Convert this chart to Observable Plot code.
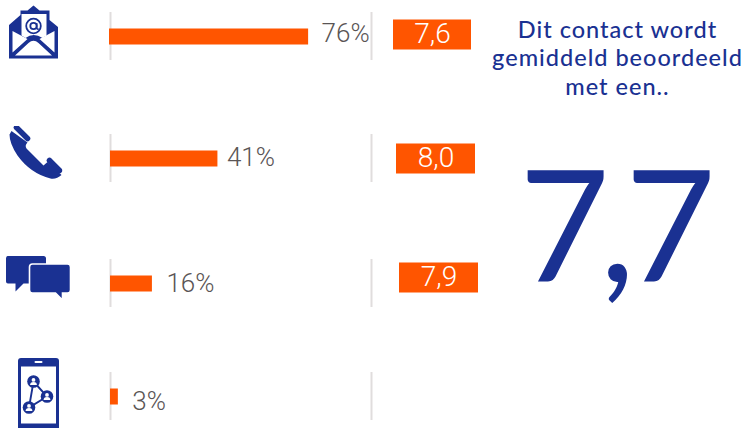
<!DOCTYPE html>
<html>
<head>
<meta charset="utf-8">
<script src="https://cdn.jsdelivr.net/npm/d3@7"></script>
<script src="https://cdn.jsdelivr.net/npm/@observablehq/plot@0.6"></script>
<style>html,body{margin:0;padding:0;background:#fff}svg{display:block}.big text{letter-spacing:-10px}.head text{letter-spacing:1px}</style>
</head>
<body>
<script>
const channels = ["e-mail", "telefoon", "chat", "app"];
const shares = [76, 41, 16, 3];
const scores = ["7,6", "8,0", "7,9"];
const headline = "Dit contact wordt\ngemiddeld beoordeeld\nmet een..";
const average = "7,7";

const navy = "#1a3192", orange = "#ff5500", grey = "#5a5555", sep = "#e0dddd";
const font = "Roboto, 'Open Sans', sans-serif";
const titleFont = "Lato, 'Open Sans', sans-serif";

// Layout offsets (pixels) per row, kept apart from the values
const labelDx = [12, 9, 14, 14];
const labelDy = [-3, -1, 0, 5];
const tagDx = [283, 286, 289];
const tagDy = [-2, 0, -6];
const tagWidth = [78, 79, 79];
const barDx = [-1, 0, 0, 0];

const rows = channels.map((channel, i) => ({channel, i, share: shares[i]}));

function icon(body, w, h) {
  const svg = `<svg xmlns="http://www.w3.org/2000/svg" width="${w}" height="${h}" viewBox="0 0 ${w} ${h}">${body}</svg>`;
  return "data:image/svg+xml," + encodeURIComponent(svg);
}
const person = (x, y) => `<circle cx="${x}" cy="${y}" r="6.3" fill="${navy}"/><circle cx="${x}" cy="${y-1.6}" r="1.9" fill="#fff"/><path d="M${x-3.4} ${y+3.4}a3.4 3 0 0 1 6.8 0z" fill="#fff"/>`;
const icons = [
  // envelope, box 50x54
  icon(`<path d="M.5 53.5V20L12 10V5.5H19L25 .5 31 5.5H41V15L49.5 22V53.5Z" fill="${navy}"/>
    <path d="M13 9H38V30.5L34 33Q25 27 17 33L13 30.5Z" fill="#fff"/>
    <path d="M4 26V47.5L19 34Z M46 26V47.5L31 34Z M6.5 50.5 H43.5L30 38Q25 33.5 20 38Z" fill="#fff"/>
    <circle cx="25" cy="21" r="7.3" fill="none" stroke="${navy}" stroke-width="1.8"/>
    <circle cx="25" cy="21" r="3.2" fill="none" stroke="${navy}" stroke-width="1.8"/>
    <path d="M28.2 18v4.5q0 2 2 1.5" fill="none" stroke="${navy}" stroke-width="1.6"/>`, 50, 54),
  // handset, box 54x54
  icon(`<path d="M8 2L19 13" stroke="${navy}" stroke-width="5.5" stroke-linecap="round" fill="none"/>
    <path d="M41 35L51 45" stroke="${navy}" stroke-width="5.5" stroke-linecap="round" fill="none"/>
    <path d="M3 5.5L1 9Q1 18 9 30Q22 48 42 53Q48 54 53 49.5L39 36.5L35 40Q28 33 18 23Q16 20 19 17Z" fill="${navy}"/>`, 54, 54),
  // speech bubbles, box 66x46
  icon(`<path d="M2 .5H38Q40.500 .5 40.500 3V28H18L10 36V28H2.500Q.5 28 .5 26V3Q.5 .5 2 .5Z" fill="${navy}"/>
    <path d="M27 8.500H62Q65 8.500 65 11.500V34.500Q65 37.500 62 37.500H57V44.500L50 37.500H27Q24 37.500 24 34.500V11.500Q24 8.500 27 8.500Z" fill="${navy}" stroke="#fff" stroke-width="1.600"/>`, 66, 46),
  // smartphone, box 42x71
  icon(`<rect x=".5" y=".5" width="41" height="72" rx="3" fill="${navy}"/>
    <rect x="3.5" y="9" width="35" height="57" fill="#fff"/>
    <rect x="17" y="3.500" width="8" height="2" rx="1" fill="#fff"/>
    <path d="M16 24L29.500 39L11.500 50Z" fill="none" stroke="${navy}" stroke-width="1.900"/>
    ${person(16, 24)}${person(29.5, 39)}${person(11.5, 50)}`, 42, 71)
];
const iconBoxes = [
  {dx: 33, dy: -4.5, width: 50, height: 54},
  {dx: 35, dy: -6, width: 54, height: 54},
  {dx: 38, dy: -5, width: 66, height: 46},
  {dx: 38, dy: -3.5, width: 42, height: 71}
];

const chart = Plot.plot({
  width: 745,
  height: 428,
  margin: 0,
  style: {background: "transparent", fontFamily: font},
  x: {domain: [0, 100], range: [110, 372], axis: null},
  y: {type: "linear", domain: [0, 1, 2, 3], range: [36, 158, 283, 396], axis: null},
  marks: [
    // separators
    ...[0, 100].map((v, k) => Plot.ruleX(rows, {
      x: () => v, dx: k ? -1 : 0,
      y1: d => d.i, y2: d => d.i, stroke: sep, strokeWidth: 2,
      render(index, scales, values, dims, ctx, next) {
        const g = next(index, scales, values, dims, ctx);
        d3.select(g).selectAll("line").each(function () {
          const s = d3.select(this), y = +s.attr("y1");
          s.attr("y1", y - 24).attr("y2", y + 24);
        });
        return g;
      }
    })),
    // share bars
    ...rows.map((d, i) => Plot.ruleY([d], {
      y: "i", x1: () => 0, x2: "share", dx: barDx[i],
      stroke: orange, strokeWidth: 16
    })),
    // share labels
    ...rows.map((d, i) => Plot.text([d], {
      y: "i", x: "share", text: r => r.share + "%",
      textAnchor: "start", dx: labelDx[i], dy: labelDy[i],
      fill: grey, fontSize: 26, fontWeight: 300, fontFamily: font
    })),
    // score tags
    ...scores.map((s, i) => Plot.ruleY([i], {
      y: d => d, x1: () => 0, x2: () => tagWidth[i] / 2.62,
      dx: tagDx[i], dy: tagDy[i], stroke: orange, strokeWidth: 30
    })),
    ...scores.map((s, i) => Plot.text([s], {
      y: () => i, x: () => 0, text: d => d,
      dx: tagDx[i] + tagWidth[i] / 2, dy: tagDy[i],
      fill: "#fff", fontSize: 28, fontWeight: 300, fontFamily: font
    })),
    // channel icons
    ...rows.map((d, i) => Plot.image([d], {
      frameAnchor: "left", y: "i", src: () => icons[i],
      dx: iconBoxes[i].dx, dy: iconBoxes[i].dy,
      width: iconBoxes[i].width, height: iconBoxes[i].height
    })),
    // headline and the big average
    Plot.text([headline], {
      frameAnchor: "top-left", text: d => d, dx: 617, dy: 17,
      textAnchor: "middle", lineAnchor: "top", lineHeight: 1.21, className: "head",
      fill: navy, fontSize: 23.5, fontWeight: 500, fontFamily: titleFont
    }),
    Plot.text([average], {
      frameAnchor: "top-left", text: d => d, dx: 612, dy: 281,
      textAnchor: "middle", lineAnchor: "bottom", className: "big",
      fill: navy, fontSize: 156, fontWeight: 400, fontFamily: titleFont
    })
  ]
});
document.body.appendChild(chart);
</script>
</body>
</html>
